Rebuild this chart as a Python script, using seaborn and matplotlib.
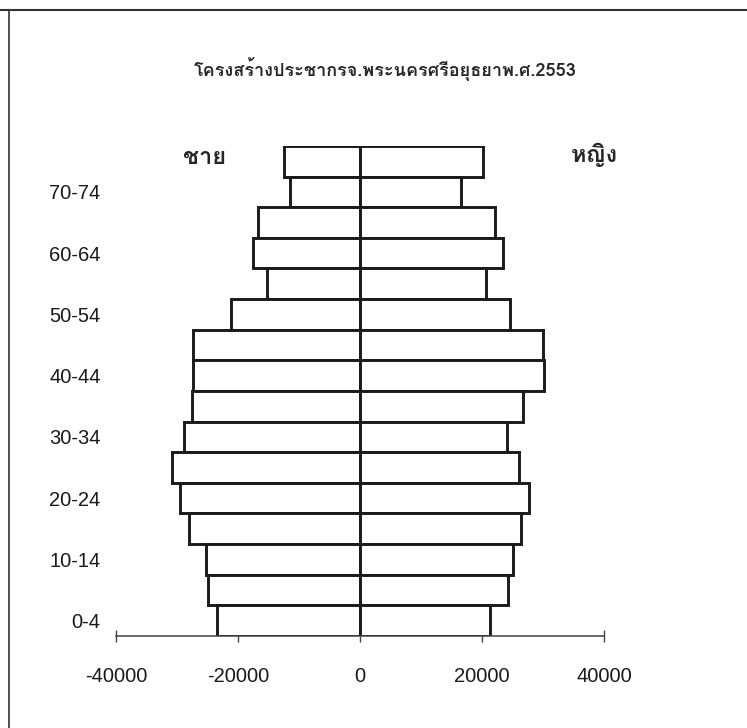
import matplotlib
matplotlib.use("Agg")
import matplotlib.pyplot as plt
import pandas as pd
import seaborn as sns
from matplotlib import font_manager
from matplotlib.ft2font import FT2Font
from matplotlib.lines import Line2D

# ข้อมูลประชากร จ.พระนครศรีอยุธยา พ.ศ.2553 (อ่านค่าจากภาพ)
ages = ['0-4', '5-9', '10-14', '15-19', '20-24', '25-29', '30-34', '35-39',
        '40-44', '45-49', '50-54', '55-59', '60-64', '65-69', '70-74', '75+']
male = [23400, 25000, 25300, 28100, 29500, 30800, 28800, 27500,
        27300, 27400, 21100, 15300, 17600, 16800, 11400, 12500]
female = [21300, 24200, 25100, 26400, 27700, 26100, 24100, 26700,
          30200, 30000, 24600, 20600, 23400, 22100, 16500, 20200]
shown_labels = ['0-4', '10-14', '20-24', '30-34', '40-44', '50-54', '60-64', '70-74']
xticks = [-40000, -20000, 0, 20000, 40000]

title = 'โครงสร้างประชากรจ.พระนครศรีอยุธยาพ.ศ.2553'


def thai_family():
    # หาฟอนต์ที่มีอักษรไทย
    for f in font_manager.fontManager.ttflist:
        try:
            if FT2Font(f.fname).get_char_index(0x0E0A):
                return f.name
        except Exception:
            pass
    return 'DejaVu Sans'


sns.set_style('white')
thai = thai_family()
plt.rcParams['font.family'] = ['Liberation Sans', 'DejaVu Sans']

df = pd.concat([
    pd.DataFrame({'age': ages, 'value': [-v for v in male], 'sex': 'ชาย'}),
    pd.DataFrame({'age': ages, 'value': female, 'sex': 'หญิง'}),
])

fig = plt.figure(figsize=(7.47, 7.28), dpi=100)
ax = fig.add_axes([0.1553, 0.1264, 0.6533, 0.6731])

sns.barplot(data=df, x='value', y='age', hue='sex', order=ages[::-1],
            dodge=False, width=1.0, palette=['white', 'white'],
            edgecolor='#1a1a1a', linewidth=2.1, legend=False, ax=ax)

ax.set_xlim(-40000, 40000)
ax.set_ylim(15.5, -0.5)
ax.set_xticks(xticks)
ax.set_xticklabels([str(t) for t in xticks], fontsize=14.5, color='#1a1a1a')
order = ages[::-1]
ax.set_yticks([order.index(a) for a in shown_labels])
ax.set_yticklabels(shown_labels, fontsize=14.5, color='#1a1a1a')
ax.tick_params(axis='y', length=0, pad=11)
ax.tick_params(axis='x', bottom=True, direction='inout', length=8, width=1.0,
               color='#444444', pad=18)
ax.set_xlabel('')
ax.set_ylabel('')
for s in ['top', 'right', 'left']:
    ax.spines[s].set_visible(False)
ax.spines['bottom'].set_color('#444444')
ax.spines['bottom'].set_linewidth(1.1)

fig.text(385 / 747, 1 - 69 / 728, title, ha='center', va='center',
         fontsize=13, fontweight='bold', family=[thai, 'DejaVu Sans'])
fig.text(205 / 747, 1 - 158 / 728, 'ชาย', ha='center', va='center',
         fontsize=17, fontweight='bold', family=[thai, 'DejaVu Sans'])
fig.text(594 / 747, 1 - 155 / 728, 'หญิง', ha='center', va='center',
         fontsize=17, fontweight='bold', family=[thai, 'DejaVu Sans'])

# กรอบด้านบนและด้านซ้าย
fig.add_artist(Line2D([0, 1], [1 - 10 / 728, 1 - 10 / 728], color='#333333', lw=1.5))
fig.add_artist(Line2D([9 / 747, 9 / 747], [0, 1 - 10 / 728], color='#333333', lw=1.2))

fig.savefig('out.png', dpi=100, facecolor='white')
